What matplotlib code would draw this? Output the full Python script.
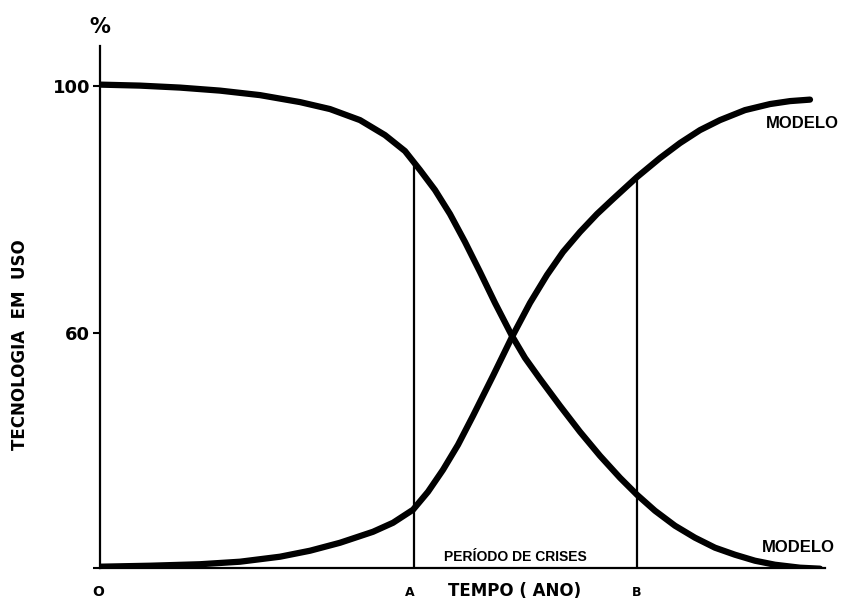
import matplotlib
matplotlib.use("Agg")
import matplotlib.pyplot as plt
import numpy as np

# time axis in arbitrary units (0 = origin), values in %
t_old = [0, 0.4, 0.8, 1.2, 1.6, 2.0, 2.3, 2.6, 2.85, 3.05, 3.2, 3.35, 3.5, 3.65,
         3.8, 3.95, 4.12, 4.25, 4.4, 4.6, 4.8, 5.0, 5.2, 5.37, 5.55, 5.75, 5.95,
         6.15, 6.35, 6.55, 6.75, 7.0, 7.2]
v_old = [100.24, 100.08, 99.76, 99.27, 98.54, 97.41, 96.28, 94.49, 92.06, 89.47,
         86.40, 83.16, 79.27, 74.74, 69.88, 64.86, 59.51, 55.95, 52.55, 48.18,
         43.97, 40.08, 36.52, 33.77, 31.18, 28.75, 26.81, 25.19, 24.05, 23.08,
         22.43, 21.95, 21.79]

t_new = [0, 0.5, 1.0, 1.4, 1.8, 2.1, 2.4, 2.73, 2.93, 3.13, 3.28, 3.43, 3.58,
         3.73, 3.93, 4.12, 4.3, 4.47, 4.63, 4.8, 4.97, 5.13, 5.37, 5.6, 5.8, 6.0,
         6.2, 6.45, 6.7, 6.9, 7.1]
v_new = [22.11, 22.27, 22.51, 22.92, 23.73, 24.70, 25.99, 27.77, 29.23, 31.34,
         34.25, 37.81, 41.86, 46.56, 53.04, 59.35, 64.86, 69.39, 73.12, 76.36,
         79.27, 81.70, 85.26, 88.34, 90.77, 92.87, 94.49, 96.11, 97.09, 97.57, 97.81]

t_a = 3.14
t_b = 5.37
y_ticks = [21.9, 60, 100]
y_ticklabels = ["", "60", "100"]

plt.rcParams['font.family'] = ['DejaVu Sans']

fig = plt.figure(figsize=(8.41, 6.03), dpi=100)
ax = fig.add_axes([100 / 841, 35 / 603, 725 / 841, 522 / 603])
y_bottom = 21.9
ax.set_xlim(0, 7.25)
ax.set_ylim(y_bottom, 106.5)

ax.plot(t_old, v_old, color="black", lw=4.5, solid_capstyle="round", solid_joinstyle="round")
ax.plot(t_new, v_new, color="black", lw=4.5, solid_capstyle="round", solid_joinstyle="round")

# vertical markers A and B up to the curves
ax.vlines(t_a, y_bottom, np.interp(t_a, t_old, v_old), color="black", lw=1.6)
ax.vlines(t_b, y_bottom, np.interp(t_b, t_new, v_new), color="black", lw=1.6)

for side in ["top", "right"]:
    ax.spines[side].set_visible(False)
for side in ["left", "bottom"]:
    ax.spines[side].set_linewidth(1.6)
    ax.spines[side].set_color("black")

ax.set_yticks(y_ticks)
ax.set_yticklabels(y_ticklabels, fontsize=13, fontweight="bold")
ax.tick_params(axis="y", direction="out", length=5, width=1.5, pad=2)
ax.set_xticks([])

bold = dict(fontweight="bold", color="black")
narrow = ["Liberation Sans", "DejaVu Sans"]
fig.text(100 / 841, 1 - 27 / 603, "%", ha="center", va="center", fontsize=15, **bold)
fig.text(20 / 841, 1 - 345 / 603, "TECNOLOGIA  EM  USO", rotation=90,
         ha="center", va="center", fontsize=12, **bold)
fig.text(98 / 841, 1 - 592 / 603, "O", ha="center", va="center", fontsize=10, **bold)
fig.text(410 / 841, 1 - 592 / 603, "A", ha="center", va="center", fontsize=9, **bold)
fig.text(637 / 841, 1 - 592 / 603, "B", ha="center", va="center", fontsize=9, **bold)
fig.text(515 / 841, 1 - 591 / 603, "TEMPO ( ANO)", ha="center", va="center", fontsize=12, **bold)
fig.text(515 / 841, 1 - 557 / 603, "PERÍODO DE CRISES", ha="center", va="center",
         fontsize=10, family=narrow, **bold)
fig.text(802 / 841, 1 - 123 / 603, "MODELO", ha="center", va="center", fontsize=12,
         family=narrow, **bold)
fig.text(798 / 841, 1 - 548 / 603, "MODELO", ha="center", va="center", fontsize=12,
         family=narrow, **bold)

fig.savefig("out.png", dpi=100)
